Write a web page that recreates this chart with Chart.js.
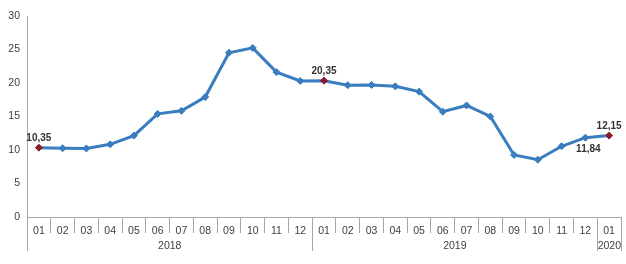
<!DOCTYPE html>
<html>
<head>
<meta charset="utf-8">
<script src="https://cdn.jsdelivr.net/npm/chart.js@4"></script>
<style>
  html, body { margin: 0; padding: 0; background: #fff; }
  #wrap { width: 626px; height: 264px; }
</style>
</head>
<body>
<div id="wrap"><canvas id="c" width="626" height="264"></canvas></div>
<script>
const months = ["01","02","03","04","05","06","07","08","09","10","11","12",
                "01","02","03","04","05","06","07","08","09","10","11","12","01"];
const years = ["2018", "2019", "2020"];
const yearSpans = [12, 12, 1];
const values = [10.35, 10.26, 10.23, 10.85, 12.15, 15.39, 15.85, 17.90, 24.52, 25.24, 21.62, 20.30,
                20.35, 19.67, 19.71, 19.50, 18.71, 15.72, 16.65, 15.01, 9.26, 8.55, 10.56, 11.84,
                12.15];
const yTicks = [0, 5, 10, 15, 20, 25, 30];
// index of labelled point -> [text, above/below]
const callouts = { 0: ["10,35", "up"], 12: ["20,35", "up"], 23: ["11,84", "down"], 24: ["12,15", "up"] };
const redPoints = [0, 12, 24];

const blue = "#3a7dbf";
const red = "#8b1a2b";
const axisGrey = "#a6a6a6";
const tickFont = { size: 10.5, family: "'Liberation Sans', Arial, sans-serif" };

const pointColors = values.map((v, i) => redPoints.includes(i) ? red : blue);

// year row + long separators + labels on points
const extras = {
  id: "extras",
  afterDraw(chart) {
    const ctx = chart.ctx;
    const x = chart.scales.x;
    const area = chart.chartArea;
    const half = (x.getPixelForValue(1) - x.getPixelForValue(0)) / 2;
    ctx.save();
    ctx.strokeStyle = axisGrey;
    ctx.lineWidth = 1;
    ctx.beginPath();
    ctx.moveTo(area.left + 0.5, area.bottom);
    ctx.lineTo(area.left + 0.5, 251);
    let start = 0;
    ctx.fillStyle = "#404040";
    ctx.font = "10.5px 'Liberation Sans', Arial, sans-serif";
    ctx.textAlign = "center";
    ctx.textBaseline = "middle";
    yearSpans.forEach((n, k) => {
      const end = start + n - 1;
      const right = Math.round(x.getPixelForValue(end) + half) + 0.5;
      const left = x.getPixelForValue(start) - half;
      ctx.moveTo(right, area.bottom);
      ctx.lineTo(right, 251);
      ctx.fillText(years[k], (left + right) / 2, 246);
      start += n;
    });
    ctx.stroke();

    const meta = chart.getDatasetMeta(0);
    ctx.font = "bold 10px 'Liberation Sans', Arial, sans-serif";
    ctx.fillStyle = "#333";
    Object.keys(callouts).forEach(i => {
      const p = meta.data[i];
      const [txt, pos] = callouts[i];
      const tx = pos === "down" ? p.x + 3 : p.x;
      ctx.fillText(txt, tx, pos === "up" ? p.y - 9 : p.y + 12);
    });
    ctx.restore();
  }
};

new Chart(document.getElementById("c"), {
  type: "line",
  data: {
    labels: months,
    datasets: [{
      data: values,
      borderColor: blue,
      borderWidth: 3,
      tension: 0,
      pointStyle: "rectRot",
      pointRadius: 3.5,
      pointBackgroundColor: pointColors,
      pointBorderColor: pointColors,
      pointBorderWidth: 1
    }]
  },
  options: {
    responsive: false,
    animation: false,
    layout: { padding: { top: 16, right: 2, left: 0, bottom: 0 } },
    plugins: { legend: { display: false }, tooltip: { enabled: false } },
    scales: {
      x: {
        offset: true,
        grid: { display: true, offset: true, drawOnChartArea: false, tickLength: 16, color: axisGrey },
        border: { color: axisGrey },
        ticks: { color: "#404040", font: tickFont, padding: -8, maxRotation: 0, autoSkip: false },
        afterFit(s) { s.height = 47; }
      },
      y: {
        min: 0, max: 30,
        afterBuildTicks(s) { s.ticks = yTicks.map(v => ({ value: v })); },
        grid: { display: false, drawTicks: false },
        border: { color: axisGrey },
        ticks: { color: "#404040", font: tickFont, padding: 7 },
        afterFit(s) { s.width = 27; }
      }
    }
  },
  plugins: [extras]
});
</script>
</body>
</html>
